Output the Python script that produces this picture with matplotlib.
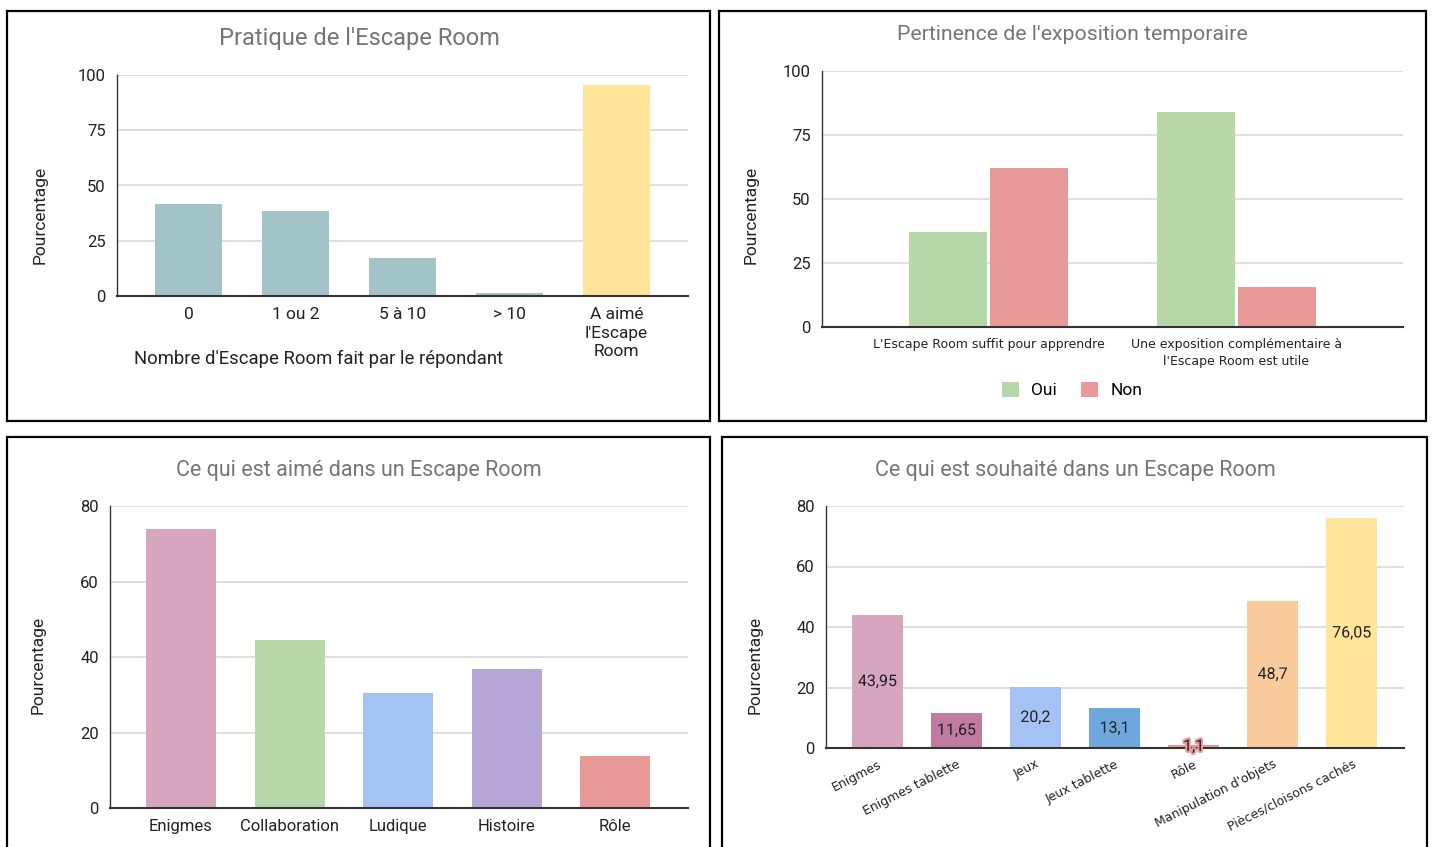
import matplotlib

matplotlib.use("Agg")
import matplotlib.pyplot as plt
import matplotlib.patheffects as pe
from matplotlib.patches import Rectangle
import numpy as np

plt.rcParams["font.family"] = ["Roboto", "DejaVu Sans"]

W, H = 1434, 847
DPI = 100

TITLE_C = "#757575"
TEXT_C = "#222222"
GRID_C = "#d9d9d9"

# --- data -----------------------------------------------------------------
practice_labels = ["0", "1 ou 2", "5 à 10", "> 10", "A aimé\nl'Escape\nRoom"]
practice_values = [41.6, 38.5, 17.2, 1.4, 95.5]
practice_colors = ["#a2c4c9", "#a2c4c9", "#a2c4c9", "#a2c4c9", "#ffe599"]

expo_labels = [
    "L'Escape Room suffit pour apprendre",
    "Une exposition complémentaire à\nl'Escape Room est utile",
]
expo_oui = [37.3, 84.1]
expo_non = [62.2, 15.6]

liked_labels = ["Enigmes", "Collaboration", "Ludique", "Histoire", "Rôle"]
liked_values = [73.9, 44.5, 30.5, 36.8, 13.8]
liked_colors = ["#d5a6bd", "#b6d7a8", "#a4c2f4", "#b4a7d6", "#ea9999"]

wished_labels = [
    "Enigmes",
    "Enigmes tablette",
    "Jeux",
    "Jeux tablette",
    "Rôle",
    "Manipulation d'objets",
    "Pièces/cloisons cachés",
]
wished_values = [43.95, 11.65, 20.2, 13.1, 1.1, 48.7, 76.05]
wished_colors = ["#d5a6bd", "#c27ba0", "#a4c2f4", "#6fa8dc", "#ea9999", "#f9cb9c", "#ffe599"]


def px_axes(fig, left, right, top, bottom):
    """Axes placed from pixel edges (y measured from the top)."""
    return fig.add_axes([left / W, 1 - bottom / H, (right - left) / W, (bottom - top) / H])


def fig_text(fig, x, y, s, **kw):
    fig.text(x / W, 1 - y / H, s, **kw)


def style_axes(ax, ymax, step):
    ax.set_ylim(0, ymax)
    ax.set_yticks(np.arange(0, ymax + 1, step))
    ax.yaxis.grid(True, color=GRID_C, linewidth=1.2)
    ax.set_axisbelow(True)
    for side in ("top", "right"):
        ax.spines[side].set_visible(False)
    ax.spines["left"].set_color("#333333")
    ax.spines["left"].set_linewidth(1.0)
    ax.spines["bottom"].set_color("#333333")
    ax.spines["bottom"].set_linewidth(1.5)
    ax.spines["bottom"].set_zorder(5)
    ax.tick_params(axis="both", length=0, colors=TEXT_C, labelsize=12)
    ax.tick_params(axis="y", pad=8)
    ax.tick_params(axis="x", pad=8)


def panel_box(fig, x0, y0, x1, y1):
    fig.add_artist(
        Rectangle(
            (x0 / W, 1 - y1 / H),
            (x1 - x0) / W,
            (y1 - y0) / H,
            transform=fig.transFigure,
            fill=False,
            edgecolor="black",
            linewidth=1.6,
        )
    )


def ylabel(fig, x, y):
    fig_text(fig, x, y, "Pourcentage", color=TEXT_C, fontsize=12.5, rotation=90,
             ha="center", va="center")


fig = plt.figure(figsize=(W / DPI, H / DPI), dpi=DPI)

panel_box(fig, 7, 11, 710, 421)
panel_box(fig, 719, 11, 1426, 421)
panel_box(fig, 7, 437, 710, 860)
panel_box(fig, 722, 437, 1427, 860)

# --- (1) Pratique de l'Escape Room ---------------------------------------
ax1 = px_axes(fig, 117, 688, 75, 296)
x = np.arange(len(practice_values))
ax1.bar(x, practice_values, 0.63, color=practice_colors)
style_axes(ax1, 100, 25)
ax1.set_xlim(-0.67, 4.67)
ax1.set_xticks(x)
ax1.set_xticklabels(practice_labels, fontsize=12.5, linespacing=1.3)
fig_text(fig, 359, 38, "Pratique de l'Escape Room", color=TITLE_C, fontsize=17,
         ha="center", va="center")
fig_text(fig, 318, 359, "Nombre d'Escape Room fait par le répondant", color=TEXT_C,
         fontsize=13.3, ha="center", va="center")
ylabel(fig, 40, 215)

# --- (2) Pertinence de l'exposition temporaire ----------------------------
ax2 = px_axes(fig, 822, 1403, 71, 327)
x = np.arange(len(expo_labels))
bw = 0.315
ax2.bar(x - bw / 2 - 0.005, expo_oui, bw, color="#b6d7a8", label="Oui")
ax2.bar(x + bw / 2 + 0.005, expo_non, bw, color="#ea9999", label="Non")
style_axes(ax2, 100, 25)
ax2.set_xlim(-0.673, 1.673)
ax2.set_xticks(x)
ax2.set_xticklabels(expo_labels, fontsize=9, family="DejaVu Sans", linespacing=1.35)
ax2.legend(
    loc="center",
    bbox_to_anchor=(1072 / W, 1 - 390 / H),
    bbox_transform=fig.transFigure,
    ncol=2,
    frameon=False,
    fontsize=12.5,
    handlelength=1.0,
    handleheight=1.0,
    columnspacing=1.4,
    handletextpad=0.7,
)
fig_text(fig, 1072, 34, "Pertinence de l'exposition temporaire", color=TITLE_C,
         fontsize=15.3, ha="center", va="center")
ylabel(fig, 751, 215)

# --- (3) Ce qui est aimé --------------------------------------------------
ax3 = px_axes(fig, 110, 688, 506, 808)
x = np.arange(len(liked_values))
ax3.bar(x, liked_values, 0.645, color=liked_colors)
style_axes(ax3, 80, 20)
ax3.set_xlim(-0.654, 4.67)
ax3.set_xticks(x)
ax3.set_xticklabels(liked_labels, fontsize=12)
fig_text(fig, 359, 470, "Ce qui est aimé dans un Escape Room", color=TITLE_C,
         fontsize=15.5, ha="center", va="center")
ylabel(fig, 38, 665)

# --- (4) Ce qui est souhaité ----------------------------------------------
ax4 = px_axes(fig, 826, 1404, 506, 748)
x = np.arange(len(wished_values))
bars = ax4.bar(x, wished_values, 0.645, color=wished_colors)
style_axes(ax4, 80, 20)
ax4.set_xlim(-0.65, 6.66)
ax4.set_xticks(x)
ax4.set_xticklabels(wished_labels, fontsize=9, family="DejaVu Sans", rotation=27,
                    ha="right", rotation_mode="anchor")
ax4.tick_params(axis="x", pad=7)
for bar, v, c in zip(bars, wished_values, wished_colors):
    ax4.text(
        bar.get_x() + bar.get_width() / 2,
        v / 2,
        f"{v:g}".replace(".", ","),
        ha="center",
        va="center",
        fontsize=11.5,
        color=TEXT_C,
        zorder=6,
        path_effects=[pe.withStroke(linewidth=3, foreground=c)],
    )
fig_text(fig, 1075, 470, "Ce qui est souhaité dans un Escape Room", color=TITLE_C,
         fontsize=15.5, ha="center", va="center")
ylabel(fig, 755, 665)

fig.savefig("out.png", dpi=DPI)
plt.close(fig)
